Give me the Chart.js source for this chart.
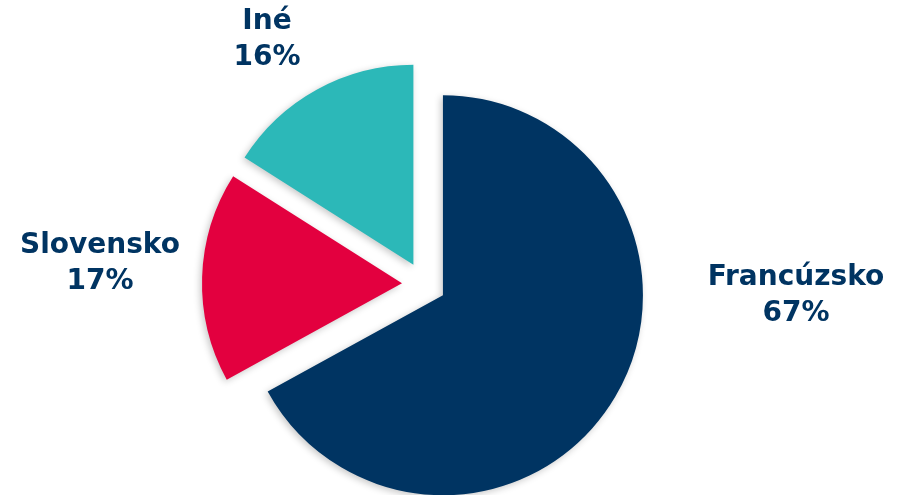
<!DOCTYPE html>
<html>
<head>
<meta charset="utf-8">
<script src="https://cdn.jsdelivr.net/npm/chart.js@4/dist/chart.umd.min.js"></script>
<style>
html,body{margin:0;padding:0;background:#fff;}
#wrap{width:897px;height:495px;}
</style>
</head>
<body>
<div id="wrap"><canvas id="c" width="897" height="495"></canvas></div>
<script>
const categories = ["Francúzsko", "Slovensko", "Iné"];
const shares = [67, 17, 16];
const colors = ["#003462", "#E3003F", "#2CB8B8"];
// label anchor relative to pie centre (px)
const labelDX = [372, -324, -157];
const labelDY = [12, -20, -244];

const EXPLODE = 22;      // px each slice is pulled out along its bisector
const RADIUS = 200;      // visible radius of every slice

// Chart.js translates an arc by offset/4 and grows its radius by (offset/4)*fix,
// also trimming its angles; keep every slice's visible radius and angles true.
const equalRadius = {
  id: 'equalRadius',
  afterDatasetUpdate(chart, args) {
    args.meta.data.forEach(arc => {
      const circ = arc.endAngle - arc.startAngle;
      const fix = 1 - Math.sin(Math.min(Math.PI, circ));
      const ro = EXPLODE * fix;
      arc.outerRadius = RADIUS - ro;
      const d = ro / (Math.PI * RADIUS) / 2;
      arc.startAngle -= d;
      arc.endAngle += d;
    });
  }
};

const shadowPlugin = {
  id: 'softShadow',
  beforeDatasetsDraw(chart) {
    const ctx = chart.ctx;
    ctx.save();
    ctx.shadowColor = 'rgba(0,0,0,0.22)';
    ctx.shadowBlur = 7;
    ctx.shadowOffsetX = -2;
    ctx.shadowOffsetY = 2;
  },
  afterDatasetsDraw(chart) {
    chart.ctx.restore();
  }
};

const labelPlugin = {
  id: 'outLabels',
  afterDatasetsDraw(chart) {
    const ctx = chart.ctx;
    const meta = chart.getDatasetMeta(0);
    ctx.save();
    ctx.fillStyle = '#003462';
    ctx.font = 'bold 28px "DejaVu Sans", Verdana, sans-serif';
    ctx.textAlign = 'center';
    ctx.textBaseline = 'middle';
    const cx = (chart.chartArea.left + chart.chartArea.right) / 2;
    const cy = (chart.chartArea.top + chart.chartArea.bottom) / 2;
    meta.data.forEach((arc, i) => {
      const x = cx + labelDX[i];
      const y = cy + labelDY[i];
      ctx.fillText(categories[i], x, y - 18);
      ctx.fillText(shares[i] + '%', x, y + 18);
    });
    ctx.restore();
  }
};

new Chart(document.getElementById('c'), {
  type: 'pie',
  data: {
    labels: categories,
    datasets: [{
      data: shares,
      backgroundColor: colors,
      borderWidth: 0,
      offset: EXPLODE * 4,
      hoverOffset: 0
    }]
  },
  options: {
    responsive: false,
    animation: false,
    radius: RADIUS,
    layout: { padding: { top: 73, bottom: 0, left: 0, right: 49 } },
    plugins: { legend: { display: false }, tooltip: { enabled: false } },
    events: []
  },
  plugins: [equalRadius, shadowPlugin, labelPlugin]
});
</script>
</body>
</html>
